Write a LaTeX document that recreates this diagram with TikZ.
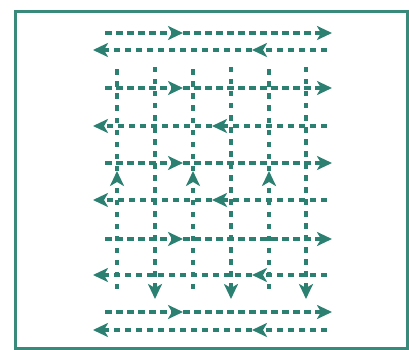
\documentclass[tikz,border=0pt]{standalone}
\usepackage{tikz}
\usetikzlibrary{arrows.meta}
\definecolor{teal1}{RGB}{44,128,114}
\definecolor{frame1}{RGB}{58,138,124}

\begin{document}
\begin{tikzpicture}[x=1pt, y=-1pt,
  hpath/.style={teal1, line width=3.6pt, dash pattern=on 6.5pt off 4.5pt,
    -{Stealth[length=15pt, width=14pt, inset=4pt]}},
  vpath/.style={teal1, line width=3.4pt, dash pattern=on 5.5pt off 6.5pt,
    -{Stealth[length=15pt, width=14pt, inset=4pt]}},
  vplain/.style={teal1, line width=3.4pt, dash pattern=on 5.5pt off 6.5pt}
]
\useasboundingbox (0,0) rectangle (409,350);
\draw[frame1, line width=3.2pt] (15.5,11.5) rectangle (407.5,349);

% rows running right
\foreach \y in {33,88,163,239,312} {
  \coordinate (rs) at (105,\y);
  \coordinate (rm) at (183,\y);
  \coordinate (re) at (332,\y);
  \draw[hpath] (rs) -- (rm);
  \draw[hpath] (rm) -- (re);
}
% rows running left
\foreach \y/\m in {50/252,126/212,200/212,275/252,330/252} {
  \coordinate (ls) at (327,\y);
  \coordinate (lm) at (\m,\y);
  \coordinate (le) at (93,\y);
  \draw[hpath] (ls) -- (lm);
  \draw[hpath] (lm) -- (le);
}
% columns running up
\foreach \x in {117,193,269} {
  \coordinate (us) at (\x,289);
  \coordinate (um) at (\x,171);
  \coordinate (ue) at (\x,67);
  \draw[vpath] (us) -- (um);
  \draw[vplain] (um) -- (ue);
}
% columns running down
\foreach \x in {155,231,306} {
  \coordinate (ds) at (\x,67);
  \coordinate (de) at (\x,299);
  \draw[vpath] (ds) -- (de);
}
\end{tikzpicture}
\end{document}
